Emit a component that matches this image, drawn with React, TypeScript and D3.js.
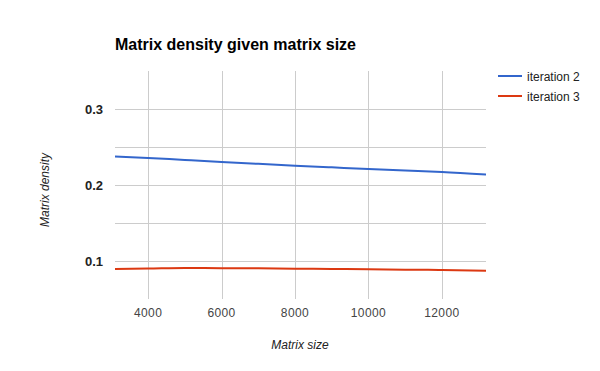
import * as React from 'react'
import * as d3 from 'd3'

const sizes = [3100, 4000, 5000, 6000, 7000, 8000, 9000, 10000, 11000, 12000, 13200]
const iteration2 = [0.238, 0.236, 0.2333, 0.2307, 0.2282, 0.2258, 0.2236, 0.2214, 0.2194, 0.2175, 0.2142]
const iteration3 = [0.0899, 0.0904, 0.0911, 0.091, 0.0907, 0.0903, 0.0899, 0.0895, 0.089, 0.0886, 0.0877]
const xTicks = [4000, 6000, 8000, 10000, 12000]
const yGrid = [0.1, 0.15, 0.2, 0.25, 0.3]
const yLabels = [0.1, 0.2, 0.3]
const seriesNames = ['iteration 2', 'iteration 3']
const seriesColors = ['#3366cc', '#dc3912']

const W = 600
const H = 371
const font = '"Liberation Sans", Arial, sans-serif'

export default function App() {
  const x = d3.scaleLinear().domain([3100, 13200]).range([115, 486])
  const y = d3.scaleLinear().domain([0.05, 0.35]).range([299.3, 71.3])
  const mk = (vals: number[]) =>
    d3.line<number>()
      .x((_, i) => x(sizes[i]))
      .y(d => y(d))
      .curve(d3.curveMonotoneX)(vals) || ''
  const series = [iteration2, iteration3]

  return (
    <svg width={W} height={H} style={{ position: 'absolute', left: 0, top: 0, background: '#fff' }} fontFamily={font}>
      <rect width={W} height={H} fill="#fff" />
      <text x={115} y={50} fontSize={16} fontWeight="bold" fill="#000">Matrix density given matrix size</text>

      {/* grid */}
      {yGrid.map(v => (
        <line key={'h' + v} x1={115} x2={486} y1={Math.round(y(v)) + 0.5} y2={Math.round(y(v)) + 0.5} stroke="#cccccc" />
      ))}
      {xTicks.map(v => (
        <line key={'v' + v} x1={Math.round(x(v)) + 0.5} x2={Math.round(x(v)) + 0.5} y1={71} y2={299} stroke="#cccccc" />
      ))}

      {/* tick labels */}
      {yLabels.map(v => (
        <text key={'yl' + v} x={103} y={y(v) + 4.5} textAnchor="end" fontSize={13} fontWeight="bold" fill="#222">
          {v.toFixed(1)}
        </text>
      ))}
      {xTicks.map(v => (
        <text key={'xl' + v} x={x(v)} y={317} textAnchor="middle" fontSize={12} fill="#444" letterSpacing={0.4}>
          {v}
        </text>
      ))}

      {/* axis titles */}
      <text x={300} y={349} textAnchor="middle" fontSize={12} fontStyle="italic" fill="#222">Matrix size</text>
      <text transform="translate(49,190) rotate(-90)" textAnchor="middle" fontSize={12} fontStyle="italic" fill="#222">Matrix density</text>

      {/* series */}
      {series.map((s, i) => (
        <path key={'s' + i} d={mk(s)} fill="none" stroke={seriesColors[i]} strokeWidth={2} />
      ))}

      {/* legend */}
      {seriesNames.map((n, i) => (
        <g key={'lg' + i} transform={`translate(0,${76 + i * 20})`}>
          <line x1={498} x2={522} y1={0} y2={0} stroke={seriesColors[i]} strokeWidth={2} />
          <text x={527} y={4.5} fontSize={12} fill="#222">{n}</text>
        </g>
      ))}
    </svg>
  )
}
